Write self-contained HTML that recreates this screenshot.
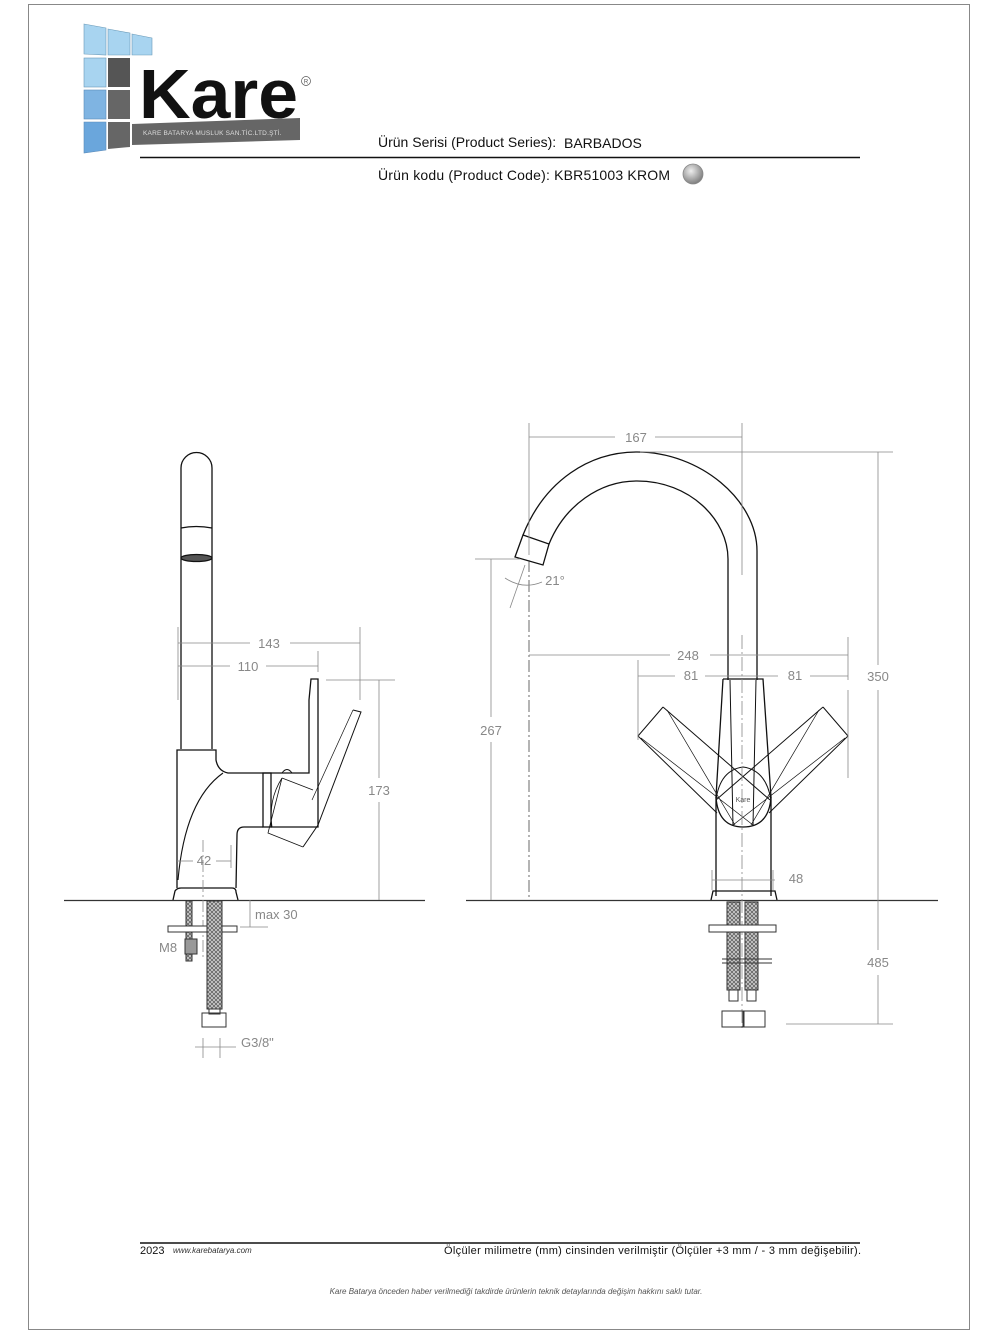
<!DOCTYPE html>
<html><head><meta charset="utf-8"><style>
html,body{margin:0;padding:0;background:#fff;}
svg{display:block;}
text{font-family:"Liberation Sans",sans-serif;}
</style></head><body>
<svg width="1000" height="1333" viewBox="0 0 1000 1333" xmlns="http://www.w3.org/2000/svg">
<rect x="28.5" y="4.5" width="941" height="1325" fill="none" stroke="#888" stroke-width="1"/>
<!-- logo -->
<g>
<polygon points="84,24 106,28 106,55 84,54" fill="#a8d4f0" stroke="#6a9ab8" stroke-width="0.6"/>
<polygon points="108,29 130,33 130,55 108,55" fill="#a8d4f0" stroke="#6a9ab8" stroke-width="0.6"/>
<polygon points="132,34 152,38 152,55 132,55" fill="#a8d4f0" stroke="#6a9ab8" stroke-width="0.6"/>
<rect x="84" y="58" width="22" height="29" fill="#a8d4f0" stroke="#6a9ab8" stroke-width="0.6"/>
<rect x="108" y="58" width="22" height="29" fill="#555" />
<rect x="84" y="90" width="22" height="29" fill="#7fb4e2" stroke="#5a8ab8" stroke-width="0.6"/>
<rect x="108" y="90" width="22" height="29" fill="#666"/>
<polygon points="84,122 106,122 106,150 84,153" fill="#6aa6dc" stroke="#5a8ab8" stroke-width="0.6"/>
<polygon points="108,122 130,122 130,147 108,149" fill="#666"/>
<polygon points="132,124 300,118 300,140 132,145" fill="#666"/>
<text x="143" y="135" font-size="6.5" fill="#ddd" letter-spacing="0.2">KARE BATARYA MUSLUK SAN.TİC.LTD.ŞTİ.</text>
<text x="139" y="118" font-size="70" font-weight="bold" fill="#111" textLength="159" lengthAdjust="spacingAndGlyphs">Kare</text>
<circle cx="306" cy="81" r="4.5" fill="none" stroke="#555" stroke-width="0.7"/>
<text x="306" y="83.5" font-size="6" text-anchor="middle" fill="#555">R</text>
</g>
<line x1="140" y1="157.5" x2="860" y2="157.5" stroke="#111" stroke-width="1.5"/>
<text x="378" y="147" font-size="14" fill="#111">Ürün Serisi (Product Series):</text>
<text x="564" y="148" font-size="14" fill="#111">BARBADOS</text>
<text x="378" y="180" font-size="14" fill="#111" textLength="292">Ürün kodu (Product Code): KBR51003 KROM</text>
<defs><radialGradient id="g" cx="0.4" cy="0.35" r="0.7"><stop offset="0" stop-color="#eee"/><stop offset="1" stop-color="#777"/></radialGradient>
<pattern id="h" width="4" height="4" patternUnits="userSpaceOnUse"><rect width="4" height="4" fill="#ccc"/><path d="M0,0 L4,4 M4,0 L0,4" stroke="#555" stroke-width="0.7"/></pattern></defs>
<circle cx="693" cy="174" r="10" fill="url(#g)" stroke="#888" stroke-width="0.8"/>

<!-- LEFT VIEW -->
<g fill="none" stroke="#111" stroke-width="1.3">
<path d="M181,749 L181,468 A15.5,15.5 0 0 1 212,468 L212,749"/>
<path d="M181,528 Q196,525 212,528"/>
<ellipse cx="196.5" cy="558" rx="15.5" ry="3.5" fill="#555"/>
<path d="M177,888 L177,750 L216,750 L216,760 Q218,771 228,773 L309,773 L309,700 L311,679 L318,679 L318,827 L271,827"/>
<rect x="263" y="773" width="8" height="54"/>
<path d="M263,827 L244,827 Q237,827 237,835 L236,888"/>
<path d="M223,773 Q185,800 178,880" stroke-width="1.1"/>
<path d="M173,900 L175,891 Q177,888 181,888 L232,888 Q236,888 236,892 L238,900" />
<path d="M282,773 Q287,766 292,773" stroke-width="1"/>
<path d="M353,710 L361,712 L318,825 L303,847" stroke-width="1"/>
<path d="M353,710 L312,800" stroke-width="0.7"/>
<path d="M282,778 L313,790 M282,778 L268,833 L303,847 M282,778 Q268,800 272,827" stroke-width="0.8"/>
<line x1="64" y1="900.5" x2="425" y2="900.5" stroke="#333" stroke-width="1.3"/>
</g>
<g stroke="#888" stroke-width="0.8" fill="none">
<line x1="178" y1="627" x2="178" y2="700"/>
<line x1="360" y1="627" x2="360" y2="700"/>
<line x1="178" y1="643" x2="250" y2="643"/><line x1="290" y1="643" x2="360" y2="643"/>
<line x1="318" y1="651" x2="318" y2="672"/>
<line x1="178" y1="666" x2="230" y2="666"/><line x1="266" y1="666" x2="318" y2="666"/>
<line x1="326" y1="680" x2="395" y2="680"/>
<line x1="379" y1="680" x2="379" y2="778"/><line x1="379" y1="802" x2="379" y2="900"/>
<line x1="177" y1="861" x2="193" y2="861"/><line x1="216" y1="861" x2="231" y2="861"/>
<line x1="231" y1="845" x2="231" y2="868"/>
<line x1="203" y1="840" x2="203" y2="960" stroke-dasharray="12,3,2,3"/>
<line x1="250" y1="900" x2="250" y2="927"/><line x1="240" y1="927" x2="268" y2="927"/>
<line x1="195" y1="1047" x2="236" y2="1047"/><line x1="203" y1="1038" x2="203" y2="1058"/><line x1="220" y1="1038" x2="220" y2="1058"/>
</g>
<g font-size="13" fill="#888" text-anchor="middle">
<text x="269" y="648">143</text><text x="248" y="671">110</text><text x="379" y="795">173</text>
<text x="204" y="865">42</text>
<text x="255" y="919" text-anchor="start">max 30</text>
<text x="159" y="952" text-anchor="start">M8</text>
<text x="241" y="1047" text-anchor="start">G3/8"</text>
</g>
<g stroke="#333" stroke-width="1" fill="none">
<rect x="186" y="901" width="6" height="60" fill="url(#h)"/>
<rect x="168" y="926" width="69" height="6" fill="#fff"/>
<rect x="185" y="939" width="12" height="15" fill="#999"/>
<rect x="207" y="901" width="15" height="108" fill="url(#h)"/>
<rect x="209" y="1009" width="11" height="5"/>
<rect x="202" y="1013" width="24" height="14"/>
</g>

<!-- RIGHT VIEW -->
<g fill="none" stroke="#111" stroke-width="1.3">
<path d="M523,535 C545,480 590,452 637,452 C700,452 757,500 757,551 L757,680"/>
<path d="M549,544 C565,505 600,481 637,481 C690,481 728,520 728,559 L728,680"/>
<path d="M523,535 L549,544 L543,565 L515,557 Z"/>
<path d="M723,679 L763,679 L771,797 L771,896 M723,679 L716,797 L716,896"/>
<path d="M716,797 Q718,827 743,827 Q769,827 771,797"/>
<path d="M716,800 Q720,770 743,767 Q766,770 771,800" stroke-width="1"/>
<path d="M730,680 L733,826 M756,680 L753,826" stroke-width="1"/>
<path d="M711,900 L713,891 L775,891 L777,900"/>
<g stroke-width="1">
<path d="M663,707 L638,736 L717,813 M663,707 L770,800"/>
<path d="M823,707 L848,736 L769,813 M823,707 L716,800"/>
<path d="M667,710 L735,825 M641,738 L753,825 M819,710 L751,825 M845,738 L733,825" stroke-width="0.7"/>
</g>
<text x="743" y="802" font-size="7" fill="#555" stroke="none" text-anchor="middle">Kare</text>
<line x1="466" y1="900.5" x2="938" y2="900.5" stroke="#333"/>
</g>
<g stroke="#888" stroke-width="0.8" fill="none">
<line x1="529" y1="423" x2="529" y2="555"/><line x1="742" y1="423" x2="742" y2="575"/>
<line x1="529" y1="437" x2="615" y2="437"/><line x1="655" y1="437" x2="742" y2="437"/>
<line x1="640" y1="452" x2="893" y2="452"/>
<line x1="878" y1="452" x2="878" y2="665"/><line x1="878" y1="690" x2="878" y2="900"/>
<line x1="878" y1="900" x2="878" y2="950"/><line x1="878" y1="975" x2="878" y2="1024"/>
<line x1="786" y1="1024" x2="893" y2="1024"/>
<line x1="475" y1="559" x2="520" y2="559"/>
<line x1="491" y1="559" x2="491" y2="717"/><line x1="491" y1="742" x2="491" y2="900"/>
<line x1="529" y1="560" x2="529" y2="900" stroke="#444" stroke-dasharray="12,3,2,3"/>
<line x1="525" y1="565" x2="510" y2="608"/>
<path d="M505,578 Q523,590 542,582"/>
<line x1="529" y1="655" x2="670" y2="655"/><line x1="710" y1="655" x2="848" y2="655"/>
<line x1="848" y1="637" x2="848" y2="680"/>
<line x1="848" y1="690" x2="848" y2="778"/>
<line x1="638" y1="660" x2="638" y2="740"/>
<line x1="638" y1="676" x2="675" y2="676"/><line x1="705" y1="676" x2="778" y2="676"/><line x1="810" y1="676" x2="848" y2="676"/>
<line x1="742" y1="635" x2="742" y2="1030" stroke-dasharray="14,3,2,3"/>
<line x1="712" y1="880" x2="775" y2="880"/><line x1="712" y1="870" x2="712" y2="890"/><line x1="773" y1="870" x2="773" y2="890"/>
</g>
<g font-size="13" fill="#888" text-anchor="middle">
<text x="636" y="442">167</text><text x="878" y="681">350</text><text x="878" y="967">485</text>
<text x="491" y="735">267</text><text x="555" y="585">21°</text>
<text x="688" y="660">248</text><text x="691" y="680">81</text><text x="795" y="680">81</text>
<text x="796" y="883">48</text>
</g>
<g stroke="#333" stroke-width="1" fill="none">
<rect x="727" y="902" width="13" height="88" fill="url(#h)"/>
<rect x="745" y="902" width="13" height="88" fill="url(#h)"/>
<rect x="709" y="925" width="67" height="7" fill="#fff"/>
<line x1="722" y1="959" x2="772" y2="959"/><line x1="722" y1="963" x2="772" y2="963"/>
<rect x="729" y="990" width="9" height="11"/><rect x="747" y="990" width="9" height="11"/>
<rect x="722" y="1011" width="22" height="16"/><rect x="743" y="1011" width="22" height="16"/>
</g>

<!-- footer -->
<line x1="140" y1="1243" x2="860" y2="1243" stroke="#111" stroke-width="1.5"/>
<text x="140" y="1254" font-size="11" fill="#111">2023</text>
<text x="173" y="1253" font-size="8" font-style="italic" fill="#333">www.karebatarya.com</text>
<text x="444" y="1254" font-size="11" fill="#111" textLength="417">Ölçüler milimetre (mm) cinsinden verilmiştir (Ölçüler  +3 mm / - 3 mm değişebilir).</text>
<text x="516" y="1294" font-size="8" font-style="italic" fill="#555" text-anchor="middle">Kare Batarya önceden haber verilmediği takdirde ürünlerin teknik detaylarında değişim hakkını saklı tutar.</text>
</svg>
</body></html>
